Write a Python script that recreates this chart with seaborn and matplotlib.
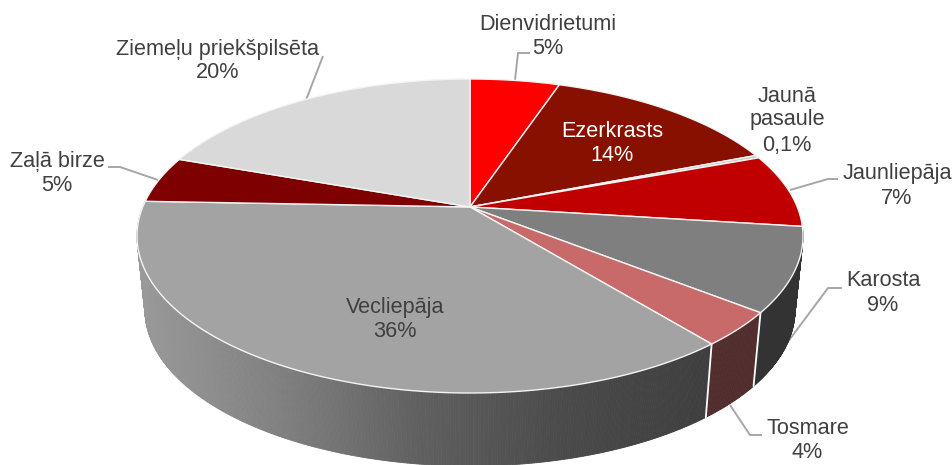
import numpy as np
import matplotlib.pyplot as plt
import seaborn as sns

# values (slices a bit finer than the printed labels)
districts = ["Dienvidrietumi", "Ezerkrasts", "Jaunā\npasaule", "Jaunliepāja", "Karosta",
             "Tosmare", "Vecliepāja", "Zaļā birze", "Ziemeļu priekšpilsēta"]
shares = [5.2, 13.9, 0.3, 7.6, 8.6, 3.5, 36.5, 4.8, 19.6]
percent_labels = ["5%", "14%", "0,1%", "7%", "9%", "4%", "36%", "5%", "20%"]
top_colors = ["#ff0000", "#881000", "#c9c9c9", "#c00000", "#7f7f7f",
              "#c96a6a", "#a3a3a3", "#7f0000", "#d9d9d9"]

# layout in pixels
W, H = 952, 465
CX = 470
TOP_CY, TOP_RX, TOP_RY = 236, 333, 157
BOT_CY, BOT_RX, BOT_RY = 310, 325, 156
TILT = 0.185  # shifts the pie centre up, like the perspective in the 3D chart

# name centre, percent centre
NAME_POS = [(548, 24), (612, 131), (787, 108), (897, 173), (883, 280),
            (808, 428), (395, 307), (57, 161), (218, 49)]
PCT_POS = [(548, 48), (612, 155), (787, 145), (897, 198), (883, 305),
           (807, 452), (395, 331), (57, 185), (218, 73)]
LEADERS = [[(515, 80), (518, 53), (530, 53)],
           [(306, 100), (323, 56)],
           [(158, 180), (120, 167), (108, 167)],
           [(790, 190), (828, 179), (838, 179)],
           [(787, 343), (828, 288), (842, 288)],
           [(730, 405), (750, 435), (762, 435)]]

sns.set_theme(style="white")
plt.rcParams["font.family"] = ["Liberation Sans", "DejaVu Sans"]


def project(theta, cy, rx, ry):
    # theta clockwise from the top, circle -> ellipse with shifted centre
    x, y = np.sin(theta), np.cos(theta)
    d = 1 + TILT * y
    return CX + rx * x * np.sqrt(1 - TILT ** 2) / d, cy - ry * (y + TILT) / d


def arc(a, b, cy, rx, ry, n=200):
    return project(np.linspace(a, b, n), cy, rx, ry)


fig, ax = plt.subplots(figsize=(W / 100, H / 100), dpi=100)
ax.set_position([0, 0, 1, 1])
ax.set_xlim(0, W)
ax.set_ylim(H, 0)
ax.axis("off")

edges = np.cumsum([0] + shares) / sum(shares) * 2 * np.pi

# side wall, drawn in thin strips for the gradient
ramp = sns.blend_palette(["#9a9a9a", "#808080", "#5f5f5f", "#4a4a4a", "#3e3e3e"], 256)
side_colors = {4: "#333333", 5: "#522d2d"}
for i in side_colors.keys() | {6}:
    a, b = edges[i], edges[i + 1]
    n = max(int((b - a) * 160), 2)
    ts = np.linspace(a, b, n + 1)
    for t0, t1 in zip(ts[:-1], ts[1:]):
        x0, y0 = project(np.array([t0, t1]), TOP_CY, TOP_RX, TOP_RY)
        x1, y1 = project(np.array([t0, t1]), BOT_CY, BOT_RX, BOT_RY)
        if i == 6:
            c = ramp[int(np.clip((x1.mean() - 140) / 565, 0, 1) * 255)]
        else:
            c = side_colors[i]
        ax.fill([x0[0], x0[1], x1[1], x1[0]], [y0[0], y0[1], y1[1], y1[0]],
                color=c, lw=0.6, zorder=2)

# white seams on the side wall
for i in (4, 5):
    x0, y0 = project(edges[i + 1], TOP_CY, TOP_RX, TOP_RY)
    x1, y1 = project(edges[i + 1], BOT_CY, BOT_RX, BOT_RY)
    ax.plot([x0, x1], [y0, y1], color="white", lw=1.3, zorder=3)

# top face
apex = (CX, TOP_CY - TOP_RY * TILT)
for i, color in enumerate(top_colors):
    xs, ys = arc(edges[i], edges[i + 1], TOP_CY, TOP_RX, TOP_RY)
    ax.fill(np.r_[apex[0], xs], np.r_[apex[1], ys], facecolor=color,
            edgecolor="#f4f4f4", lw=1.0, zorder=4)

for pts in LEADERS:
    ax.plot(*zip(*pts), color="#a6a6a6", lw=1.4, zorder=1, solid_capstyle="butt")

for i, name in enumerate(districts):
    color = "white" if name == "Ezerkrasts" else "#404040"
    ax.text(*NAME_POS[i], name, ha="center", va="center", fontsize=15.6,
            linespacing=1.1, color=color, zorder=5)
    ax.text(*PCT_POS[i], percent_labels[i], ha="center", va="center", fontsize=15.6,
            color=color, zorder=5)

fig.savefig("out.png", dpi=100)
